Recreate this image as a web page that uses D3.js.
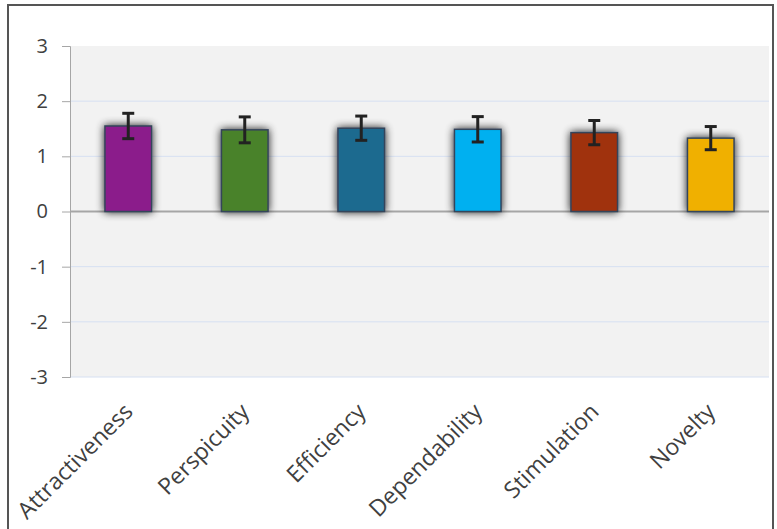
<!DOCTYPE html>
<html>
<head>
<meta charset="utf-8">
<script src="https://cdn.jsdelivr.net/npm/d3@7"></script>
<style>
  body { margin: 0; background: #fff; }
  #chart { width: 777px; height: 529px; }
</style>
</head>
<body>
<div id="chart"></div>
<script>
// scales and their items
const categories = ['Attractiveness', 'Perspicuity', 'Efficiency', 'Dependability', 'Stimulation', 'Novelty'];
const means = [1.55, 1.48, 1.51, 1.49, 1.43, 1.33];
const errors = [0.23, 0.235, 0.22, 0.23, 0.22, 0.21];
const colors = ['#8b1e8b', '#4a822a', '#1f6a8f', '#00b0f0', '#a0300e', '#f0b000'];
const yTicks = [-3, -2, -1, 0, 1, 2, 3];

const W = 777, H = 529;
const margin = { top: 46, right: 8, bottom: 152, left: 70 };
const width = W - margin.left - margin.right;
const height = H - margin.top - margin.bottom;

const svg = d3.select('#chart')
  .append('svg')
    .attr('width', W)
    .attr('height', H);

// shadow for bars
const defs = svg.append('defs');
const f = defs.append('filter').attr('id', 'shadow')
  .attr('x', '-40%').attr('y', '-40%').attr('width', '180%').attr('height', '180%');
f.append('feGaussianBlur').attr('in', 'SourceAlpha').attr('stdDeviation', 4).attr('result', 'b');
f.append('feComponentTransfer').attr('in', 'b').attr('result', 'b2')
  .append('feFuncA').attr('type', 'linear').attr('slope', 0.9);
const m = f.append('feMerge');
m.append('feMergeNode').attr('in', 'b2');
m.append('feMergeNode').attr('in', 'SourceGraphic');

// outer frame
svg.append('rect')
  .attr('x', 8).attr('y', 5)
  .attr('width', 765).attr('height', 540)
  .attr('fill', 'none')
  .attr('stroke', '#555')
  .attr('stroke-width', 2);

const g = svg.append('g')
  .attr('transform', `translate(${margin.left},${margin.top})`);

const x = d3.scaleBand()
  .domain(categories)
  .range([0, width])
  .paddingInner(0.6)
  .paddingOuter(0.3);

const y = d3.scaleLinear()
  .domain([-3, 3])
  .range([height, 0]);

// plot background
g.append('rect')
  .attr('width', width).attr('height', height)
  .attr('fill', '#f2f2f2');

// gridlines
g.append('g')
  .selectAll('line')
  .data(yTicks.filter(d => d !== 0 && d !== 3))
  .join('line')
    .attr('x1', 0).attr('x2', width)
    .attr('y1', d => y(d)).attr('y2', d => y(d))
    .attr('stroke', '#d6e0f2')
    .attr('stroke-width', 1);

// y axis
g.append('g')
  .call(d3.axisLeft(y).tickValues(yTicks).tickSize(8).tickPadding(14).tickFormat(d => String(d)))
  .call(g => g.select('.domain').attr('stroke', '#a6a6a6'))
  .call(g => g.selectAll('.tick line').attr('stroke', '#a6a6a6'))
  .call(g => g.selectAll('.tick text')
    .attr('fill', '#404040')
    .attr('font-size', 20)
    .attr('font-family', 'Open Sans, sans-serif'));

// zero line
g.append('line')
  .attr('x1', 0).attr('x2', width)
  .attr('y1', y(0)).attr('y2', y(0))
  .attr('stroke', '#a6a6a6')
  .attr('stroke-width', 2);

// bars
g.selectAll('.bar')
  .data(categories)
  .join('rect')
    .attr('class', 'bar')
    .attr('x', d => x(d))
    .attr('y', (d, i) => y(means[i]))
    .attr('width', x.bandwidth())
    .attr('height', (d, i) => y(0) - y(means[i]))
    .attr('fill', (d, i) => colors[i])
    .attr('stroke', '#34445a')
    .attr('stroke-width', 1.5)
    .attr('filter', 'url(#shadow)');

// error bars
const eb = g.append('g')
  .attr('stroke', '#222')
  .attr('stroke-width', 3);
categories.forEach((c, i) => {
  const cx = x(c) + x.bandwidth() / 2;
  const hi = y(means[i] + errors[i]), lo = y(means[i] - errors[i]);
  eb.append('line').attr('x1', cx).attr('x2', cx).attr('y1', hi).attr('y2', lo);
  eb.append('line').attr('x1', cx - 6).attr('x2', cx + 6).attr('y1', hi).attr('y2', hi);
  eb.append('line').attr('x1', cx - 6).attr('x2', cx + 6).attr('y1', lo).attr('y2', lo);
});

// x labels
g.append('g')
  .selectAll('text')
  .data(categories)
  .join('text')
    .attr('transform', d => `translate(${x(d) + x.bandwidth() / 2 + 6},${height + 36}) rotate(-45)`)
    .attr('text-anchor', 'end')
    .attr('fill', '#404040')
    .attr('font-size', 23)
    .attr('font-family', 'Open Sans, sans-serif')
    .text(d => d);
</script>
</body>
</html>
